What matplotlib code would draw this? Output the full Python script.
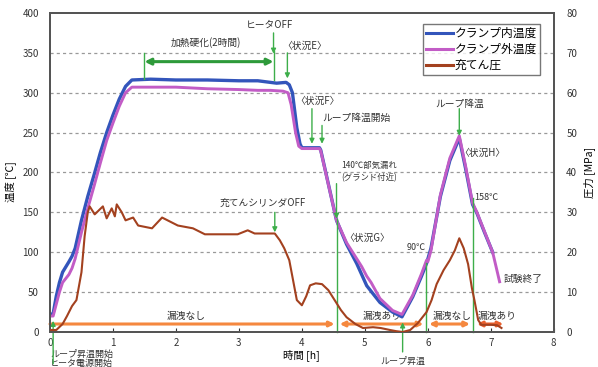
import matplotlib.pyplot as plt
from matplotlib.lines import Line2D

plt.rcParams['font.family'] = ['Noto Sans CJK JP', 'DejaVu Sans']

# 時間 [h] と各温度 [℃]
t_in = [0, 0.05, 0.1, 0.15, 0.2, 0.3, 0.35, 0.4, 0.5, 0.6, 0.7, 0.8, 0.9, 1.0, 1.1, 1.2, 1.3,
        1.6, 2.0, 2.5, 3.0, 3.3, 3.5, 3.6, 3.75, 3.8, 3.85, 3.92, 3.97, 4.0, 4.28, 4.3, 4.55,
        4.71, 4.87, 5.03, 5.24, 5.44, 5.59, 5.76, 5.9, 5.98, 6.05, 6.2, 6.35, 6.5, 6.6, 6.71,
        6.78, 6.9, 7.03]
temp_in = [22, 23, 45, 62, 75, 88, 95, 105, 140, 170, 197, 225, 250, 272, 292, 308, 316,
           317, 316, 316, 315, 315, 313, 312, 313, 310, 300, 256, 236, 231, 231, 228, 140,
           110, 86, 58, 37, 25, 19, 44, 70, 86, 105, 170, 215, 243, 205, 160,
           149, 125, 100]

t_out = [0, 0.05, 0.1, 0.15, 0.2, 0.3, 0.35, 0.4, 0.5, 0.6, 0.7, 0.8, 0.9, 1.0, 1.1, 1.2, 1.3,
         1.6, 2.0, 2.5, 3.0, 3.3, 3.5, 3.7, 3.78, 3.83, 3.9, 3.95, 4.0, 4.28, 4.3, 4.55,
         4.71, 4.87, 4.95, 5.03, 5.1, 5.24, 5.44, 5.59, 5.76, 5.9, 5.98, 6.0, 6.05, 6.2, 6.35,
         6.5, 6.6, 6.71, 6.78, 6.9, 7.03, 7.14]
temp_out = [20, 20, 35, 50, 62, 72, 80, 92, 125, 155, 183, 212, 240, 262, 283, 300, 307,
            307, 307, 305, 304, 303, 303, 302, 300, 285, 250, 233, 230, 230, 227, 140,
            112, 92, 82, 70, 62, 42, 27, 22, 46, 73, 90, 88, 102, 172, 218,
            246, 208, 162, 150, 126, 100, 63]

# 充てん圧 [MPa]
t_p = [0, 0.1, 0.2, 0.27, 0.35, 0.42, 0.5, 0.55, 0.6, 0.63, 0.71, 0.84, 0.9, 0.98, 1.03,
       1.06, 1.14, 1.2, 1.32, 1.4, 1.62, 1.78, 2.03, 2.27, 2.46, 2.73, 2.98, 3.14, 3.25,
       3.57, 3.65, 3.72, 3.8, 3.86, 3.92, 4.0, 4.07, 4.13, 4.22, 4.32, 4.42, 4.52, 4.62,
       4.71, 4.85, 4.97, 5.13, 5.25, 5.4, 5.5, 5.6, 5.72, 5.84, 5.98, 6.06, 6.14, 6.25,
       6.35, 6.43, 6.5, 6.57, 6.64, 6.7, 6.74, 6.8, 6.85, 7.0, 7.1, 7.17]
press = [0.5, 0.5, 2, 4, 6.5, 8, 15, 24, 30, 31.5, 29.5, 31.5, 28.5, 31, 29,
         32, 30, 28, 28.7, 26.7, 26, 28.7, 26.7, 26, 24.5, 24.5, 24.5, 25.5, 24.7,
         24.7, 23, 21, 18, 13, 8, 6.7, 9, 11.7, 12.2, 12, 10.5, 8, 5.5,
         3.7, 2, 1, 1.2, 1.0, 0.5, 0.2, 0, 0.5, 2.2, 5, 8, 12, 15.5,
         18, 20.5, 23.5, 21, 17, 11, 8, 3, 1.8, 1.8, 1.7, 1]

# 漏洩区間 (時間) とラベル
leak_level = 10
leak_spans = [(0.0, 4.52), (4.6, 5.93), (6.02, 6.67), (6.78, 7.2)]
leak_labels = ['漏洩なし', '漏洩あり', '漏洩なし', '漏洩あり']
leak_label_x = [2.17, 5.27, 6.38, 7.10]

c_in = '#3355BB'
c_out = '#C25CC6'
c_p = '#A3411F'
c_leak = '#F5883F'
c_mark = '#3DAE4A'

fig = plt.figure(figsize=(5.98, 3.67), dpi=100)
ax = fig.add_axes([0.0836, 0.0954, 0.8424, 0.8692])
ax2 = ax.twinx()

ax.plot(t_in, temp_in, color=c_in, lw=2.4, zorder=4)
ax.plot(t_out, temp_out, color=c_out, lw=2.1, zorder=4)
ax2.plot(t_p, press, color=c_p, lw=1.5, zorder=4)

ax.set_xlim(0, 8)
ax.set_ylim(0, 400)
ax2.set_ylim(0, 80)
ax.set_xticks(range(0, 9))
ax.set_yticks(range(0, 401, 50))
ax2.set_yticks(range(0, 81, 10))

for a in (ax, ax2):
    for s in a.spines.values():
        s.set_color('#555555')
        s.set_linewidth(1.4)
    a.tick_params(labelsize=7, colors='#333333', length=3, direction='in', width=0.8)
ax.tick_params(axis='y', length=0, pad=8)
ax2.tick_params(axis='y', length=0, pad=9)
ax.tick_params(axis='x', pad=4)

# 水平グリッド
for y in range(50, 400, 50):
    ax.axhline(y, color='#999999', lw=0.9, ls=(0, (2.5, 2.5)), zorder=1)

ax.set_ylabel('温度 [℃]', fontsize=7.5)
ax.yaxis.set_label_coords(-0.068, 0.47)
ax2.set_ylabel('圧力 [MPa]', fontsize=7.5, labelpad=4)
ax.set_xlabel('時間 [h]', fontsize=7.5)
ax.xaxis.set_label_coords(0.5, -0.072)
ax.xaxis.label.set_va('center')

# 漏洩区間の矢印
for i, (x0, x1) in enumerate(leak_spans):
    style = '-|>' if i == 0 else '<|-|>'
    col = c_leak if i < 3 else '#E8602E'
    ax.annotate('', xy=(x1, leak_level), xytext=(x0, leak_level),
                arrowprops=dict(arrowstyle=style, color=col, lw=2.2,
                                mutation_scale=7, shrinkA=0, shrinkB=0), zorder=3)
for lab, lx in zip(leak_labels, leak_label_x):
    ax.text(lx, leak_level + 4, lab, fontsize=7, ha='center', va='bottom', color='#333333')


def arrow(x, y0, y1):
    ax.annotate('', xy=(x, y1), xytext=(x, y0), annotation_clip=False,
                arrowprops=dict(arrowstyle='-|>', color=c_mark, lw=1.0,
                                mutation_scale=7, shrinkA=0, shrinkB=0), zorder=5)


def vline(x, y0, y1):
    ax.plot([x, x], [y0, y1], color=c_mark, lw=1.0, zorder=5, clip_on=False)


# 加熱硬化区間
ax.annotate('', xy=(3.55, 339), xytext=(1.5, 339),
            arrowprops=dict(arrowstyle='<|-|>', color='#2E9A3A', lw=2.2,
                            mutation_scale=9, shrinkA=0, shrinkB=0), zorder=5)
vline(1.5, 317, 350)
vline(3.55, 316, 352)
arrow(3.55, 375, 349)
arrow(3.77, 350, 318)
arrow(4.16, 280, 236)
arrow(4.32, 259, 236)
arrow(4.55, 186, 142)
vline(4.55, 0, 142)
arrow(6.5, 280, 246)
vline(6.71, 0, 168)
vline(5.97, 0, 86)
arrow(5.6, -25, 12)
arrow(0.05, -40, 14)
arrow(3.57, 150, 125)

txt = dict(fontsize=7, color='#333333', ha='center', va='center')
ax.text(2.48, 363, '加熱硬化(2時間)', **txt)
ax.text(3.49, 385, 'ヒータOFF', **txt)
ax.text(4.05, 359, '〈状況E〉', **txt)
ax.text(4.24, 290, '〈状況F〉', **txt)
ax.text(4.86, 268, 'ループ降温開始', **txt)
ax.text(4.62, 209, '140℃部気漏れ', fontsize=6, color='#333333', ha='left', va='center')
ax.text(4.62, 194, '(グランド付近)', fontsize=6, color='#333333', ha='left', va='center')
ax.text(5.03, 118, '〈状況G〉', **txt)
ax.text(3.37, 162, '充てんシリンダOFF', **txt)
ax.text(6.51, 286, 'ループ降温', **txt)
ax.text(6.86, 225, '〈状況H〉', **txt)
ax.text(6.74, 169, '158℃', fontsize=6.5, color='#333333', ha='left', va='center')
ax.text(5.81, 106, '90℃', fontsize=6.5, color='#333333', ha='center', va='center')
ax.text(7.51, 67, '試験終了', **txt)
ax.text(0.0, -28, 'ループ昇温開始', fontsize=6.5, color='#333333', ha='left', va='center', clip_on=False)
ax.text(0.0, -40, 'ヒータ電源開始', fontsize=6.5, color='#333333', ha='left', va='center', clip_on=False)
ax.text(5.6, -37, 'ループ昇温', fontsize=6.5, color='#333333', ha='center', va='center', clip_on=False)

handles = [Line2D([], [], color=c_in, lw=2.2),
           Line2D([], [], color=c_out, lw=2.2),
           Line2D([], [], color=c_p, lw=2.2)]
leg = ax2.legend(handles, ['クランプ内温度', 'クランプ外温度', '充てん圧'],
                 loc='upper left', bbox_to_anchor=(0.74, 0.965), fontsize=8.5,
                 frameon=True, fancybox=False, handlelength=2.3, handletextpad=0.15,
                 borderpad=0.25, labelspacing=0.25, borderaxespad=0)
leg.get_frame().set_edgecolor('#555555')
leg.get_frame().set_linewidth(1.0)

fig.savefig('out.png', dpi=100)
